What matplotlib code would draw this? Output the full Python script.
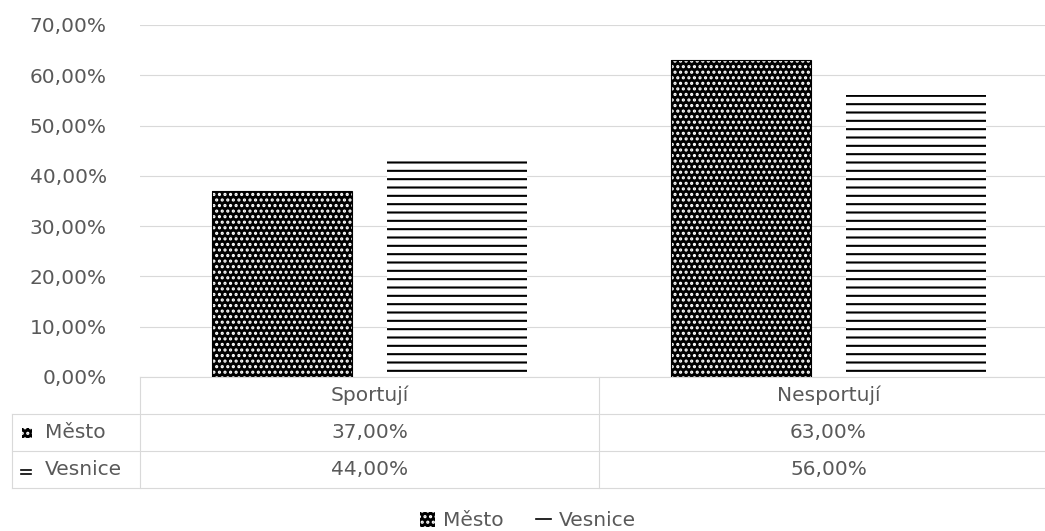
import matplotlib.pyplot as plt
import numpy as np
from matplotlib.patches import Rectangle, Patch
from matplotlib.lines import Line2D

plt.rcParams["font.family"] = ["DejaVu Sans"]
plt.rcParams["hatch.linewidth"] = 1.5

categories = ["Sportují", "Nesportují"]
series = ["Město", "Vesnice"]
mesto = [37.0, 63.0]
vesnice = [44.0, 56.0]
yticks = [0, 10, 20, 30, 40, 50, 60, 70]

txt = "#595959"
grid = "#d9d9d9"
fs = 14.5


def pct(v):
    return f"{v:.2f}".replace(".", ",") + "%"


W, H = 1045, 531
fig = plt.figure(figsize=(W / 100, H / 100), dpi=100)
# plot area runs a little past the right edge of the figure
aw, ah = 918, 352
ax = fig.add_axes([140 / W, 1 - 377 / H, aw / W, ah / H])

x = np.arange(len(categories))
w = 140 / 459
off = 87.5 / 459

# town: black bars with white dots, village: white bars with horizontal lines
ax.bar(x - off, mesto, w, color="black", edgecolor="white", hatch="...", linewidth=0, zorder=2)
ax.bar(x - off, mesto, w, facecolor="none", edgecolor="black", linewidth=0.8, zorder=3)
ax.bar(x + off, vesnice, w, color="white", edgecolor="black", hatch="--", linewidth=0, zorder=2)

ax.set_xlim(-0.5, len(categories) - 0.5)
ax.set_ylim(0, 70)
ax.set_yticks(yticks)
ax.set_yticklabels([pct(t) for t in yticks], color=txt, fontsize=fs)
ax.tick_params(axis="y", length=0, pad=24)
ax.set_xticks([])
ax.grid(axis="y", color=grid, linewidth=0.8, zorder=0)
for s in ax.spines.values():
    s.set_visible(False)

# data table under the plot
rh = 37 / ah
left = -128 / aw
tr = ax.transAxes
lk = dict(color=grid, linewidth=0.8, transform=tr, clip_on=False)
ax.plot([0, 1], [0, 0], **lk)
for i in range(1, 4):
    ax.plot([left if i > 0 else 0, 1], [-rh * i] * 2, **lk)
ax.plot([left, left], [-rh, -3 * rh], **lk)
for xv in [0, 0.5, 1]:
    ax.plot([xv, xv], [0, -3 * rh], **lk)

for i, c in enumerate(categories):
    cx = (i + 0.5) / len(categories)
    ax.text(cx, -rh / 2, c, ha="center", va="center", color=txt, fontsize=fs, transform=tr)
    ax.text(cx, -1.5 * rh, pct(mesto[i]), ha="center", va="center", color=txt, fontsize=fs, transform=tr)
    ax.text(cx, -2.5 * rh, pct(vesnice[i]), ha="center", va="center", color=txt, fontsize=fs, transform=tr)

ax.text(left + 33 / aw, -1.5 * rh, series[0], ha="left", va="center", color=txt, fontsize=fs, transform=tr)
ax.text(left + 33 / aw, -2.5 * rh, series[1], ha="left", va="center", color=txt, fontsize=fs, transform=tr)
ax.add_patch(Rectangle((left + 10 / aw, -1.5 * rh - 5 / ah), 10 / aw, 10 / ah, facecolor="black",
                       edgecolor="white", hatch="...", linewidth=0, transform=tr, clip_on=False))
ax.plot([left + 9 / aw, left + 19 / aw], [-2.5 * rh - 4 / ah] * 2, color="black", lw=1.2, transform=tr, clip_on=False)
ax.plot([left + 9 / aw, left + 19 / aw], [-2.5 * rh + 0 / ah] * 2, color="black", lw=1.2, transform=tr, clip_on=False)

handles = [
    Patch(facecolor="black", edgecolor="white", hatch="...", linewidth=0),
    Line2D([], [], color="black", lw=1.2),
]
fig.legend(handles, series, loc="center", bbox_to_anchor=(528 / W, 1 - 521 / H), ncol=2, frameon=False,
           fontsize=fs, labelcolor=txt, handlelength=0.75, handleheight=0.75, handletextpad=0.4,
           columnspacing=1.6)

fig.savefig("out.png", dpi=100, facecolor="white")
